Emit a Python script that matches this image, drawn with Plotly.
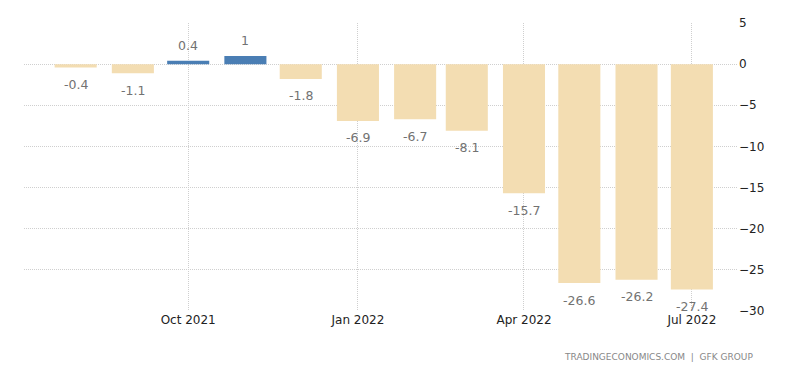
import plotly.graph_objects as go

months = ["2021-08-01", "2021-09-01", "2021-10-01", "2021-11-01", "2021-12-01", "2022-01-01",
          "2022-02-01", "2022-03-01", "2022-04-01", "2022-05-01", "2022-06-01", "2022-07-01"]
values = [-0.4, -1.1, 0.4, 1, -1.8, -6.9, -6.7, -8.1, -15.7, -26.6, -26.2, -27.4]
labels = ["-0.4", "-1.1", "0.4", "1", "-1.8", "-6.9", "-6.7", "-8.1", "-15.7", "-26.6", "-26.2", "-27.4"]
tick_vals = ["2021-10-01", "2022-01-01", "2022-04-01", "2022-07-01"]
tick_text = ["Oct 2021", "Jan 2022", "Apr 2022", "Jul 2022"]
y_ticks = [5, 0, -5, -10, -15, -20, -25, -30]

colors = ["#4A7EB4" if v > 0 else "#F3DDB2" for v in values]

fig = go.Figure(go.Bar(
    x=months, y=values, marker=dict(color=colors, line=dict(width=0)),
    width=22.8 * 86400000, hoverinfo="x+y",
))

annotations = []
for m, v, t in zip(months, values, labels):
    annotations.append(dict(x=m, y=v, text=t, showarrow=False, xref="x", yref="y",
                            yshift=15 if v > 0 else -17,
                            font=dict(size=12.5, color="#727272", family="DejaVu Sans")))
annotations.append(dict(text="TRADINGECONOMICS.COM  |  GFK GROUP", xref="paper", yref="paper",
                        x=1.0, y=0, xanchor="right", yanchor="top", showarrow=False,
                        xshift=17, yshift=-39, font=dict(size=9, color="#888")))

fig.update_layout(
    width=784, height=357, margin=dict(l=16, r=54, t=8, b=54),
    paper_bgcolor="white", plot_bgcolor="white", showlegend=False,
    font=dict(family="DejaVu Sans", size=12, color="#222"),
    annotations=annotations,
)
fig.update_xaxes(type="date", range=["2021-07-04", "2022-07-26"], tickvals=tick_vals, ticktext=tick_text,
                 showgrid=True, gridcolor="#cfcfcf", griddash="1px,1px", showline=False, zeroline=False,
                 ticks="", tickfont=dict(size=12, color="#222"))
fig.update_yaxes(range=[-30, 5], side="right", tickvals=y_ticks, showgrid=True, gridcolor="#cfcfcf",
                 griddash="1px,1px", zeroline=False, showline=False, ticks="",
                 tickfont=dict(size=12, color="#222"))

fig.write_html("out.html")
